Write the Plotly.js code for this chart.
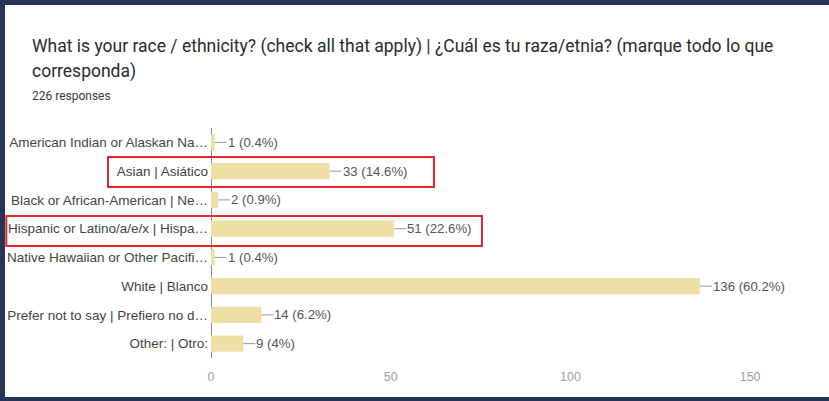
<!DOCTYPE html>
<html>
<head>
<meta charset="utf-8">
<script src="https://cdn.plot.ly/plotly-3.0.1.min.js"></script>
<style>
  html, body { margin: 0; padding: 0; background: #26345a; width: 829px; height: 401px; overflow: hidden; }
  #chart { position: absolute; left: 5px; top: 5px; width: 824px; height: 392px; }
</style>
</head>
<body>
<div id="chart"></div>
<script>
const categories = [
  "American Indian or Alaskan Na…",
  "Asian | Asiático",
  "Black or African-American | Ne…",
  "Hispanic or Latino/a/e/x | Hispa…",
  "Native Hawaiian or Other Pacifi…",
  "White | Blanco",
  "Prefer not to say | Prefiero no d…",
  "Other: | Otro:"
];
const counts = [1, 33, 2, 51, 1, 136, 14, 9];
const percentLabels = ["0.4%", "14.6%", "0.9%", "22.6%", "0.4%", "60.2%", "6.2%", "4%"];
const titleLine1 = "What is your race / ethnicity? (check all that apply) | ¿Cuál es tu raza/etnia? (marque todo lo que";
const titleLine2 = "corresponda)";
const responsesText = "226 responses";

const trace = {
  type: "bar",
  orientation: "h",
  x: counts,
  y: categories,
  marker: { color: "#eedfa6" },
  hoverinfo: "none"
};

const valueAnnotations = categories.map((c, i) => ({
  x: counts[i], y: c, xref: "x", yref: "y",
  text: counts[i] + " (" + percentLabels[i] + ")",
  showarrow: true, arrowhead: 0, arrowwidth: 1, arrowcolor: "#9a9a9a",
  ax: 12, ay: 0, xanchor: "left", borderpad: 0,
  font: { family: "Liberation Sans, Arial, sans-serif", size: 13.2, color: "#555555" }
}));

const textAnnotations = [
  { text: titleLine1, xref: "paper", yref: "paper", x: -0.296, y: 1.3565, xanchor: "left", yanchor: "middle", showarrow: false,
    font: { family: "Roboto, sans-serif", size: 17.5, color: "#2b2b2b" } },
  { text: titleLine2, xref: "paper", yref: "paper", x: -0.296, y: 1.2435, xanchor: "left", yanchor: "middle", showarrow: false,
    font: { family: "Roboto, sans-serif", size: 17.5, color: "#2b2b2b" } },
  { text: responsesText, xref: "paper", yref: "paper", x: -0.296, y: 1.139, xanchor: "left", yanchor: "middle", showarrow: false,
    font: { family: "Roboto, sans-serif", size: 12, color: "#3a3a3a" } }
];

const boxes = [
  { x0: -0.1686, x1: 0.365, y0: 0.7435, y1: 0.874 },
  { x0: -0.335, x1: 0.4435, y0: 0.487, y1: 0.617 }
].map(b => Object.assign({ type: "rect", xref: "paper", yref: "paper", line: { color: "#e3262b", width: 2 }, fillcolor: "rgba(0,0,0,0)", layer: "above" }, b));

const layout = {
  width: 824, height: 392,
  paper_bgcolor: "#ffffff", plot_bgcolor: "#ffffff",
  margin: { l: 206, r: 7, t: 123, b: 39 },
  showlegend: false,
  bargap: 0.44,
  xaxis: {
    range: [0, 170], tickvals: [0, 50, 100, 150], showgrid: false,
    zeroline: true, zerolinecolor: "#8a8a8a", zerolinewidth: 1,
    showline: false, ticks: "", ticklabelstandoff: 9,
    tickfont: { family: "Liberation Sans, Arial, sans-serif", size: 12.5, color: "#a0a0a0" }
  },
  yaxis: {
    autorange: "reversed", showgrid: false, zeroline: false, showline: false, ticks: "",
    ticklabelstandoff: 2,
    tickfont: { family: "Liberation Sans, Arial, sans-serif", size: 13.5, color: "#444444" }
  },
  annotations: valueAnnotations.concat(textAnnotations),
  shapes: boxes
};

Plotly.newPlot("chart", [trace], layout, { staticPlot: true, displayModeBar: false });
</script>
</body>
</html>
